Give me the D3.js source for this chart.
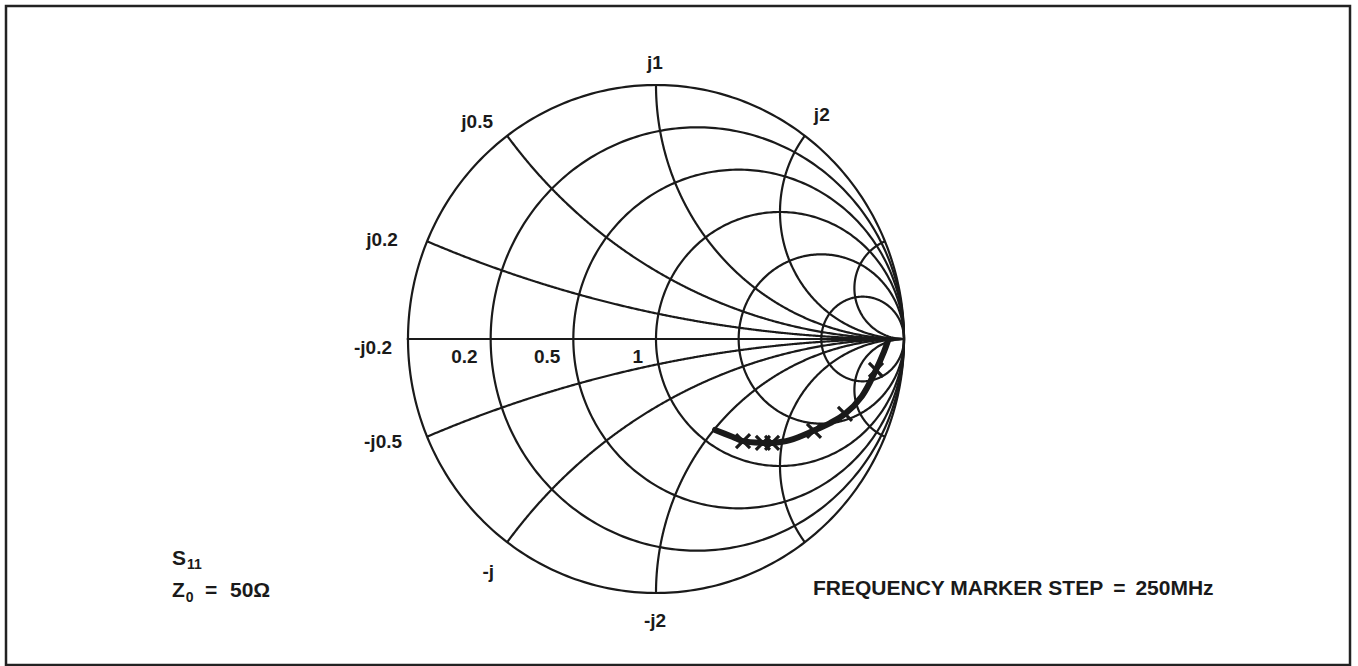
<!DOCTYPE html>
<html><head><meta charset="utf-8">
<script src="https://cdn.jsdelivr.net/npm/d3@7"></script>
<style>
body{margin:0;background:#fff;}
text{font-family:"Liberation Sans",Arial,Helvetica,sans-serif;font-weight:bold;fill:#1a1a1a;}
</style>
</head><body>
<svg id="chart" width="1358" height="666"></svg>
<script>
// ---------------- data ----------------
const resistanceValues = [0.2, 0.5, 1, 2, 5];
const reactanceValues  = [0.2, 0.5, 1, 2, 5, -0.2, -0.5, -1, -2, -5];
const resistanceLabelText   = ["0.2", "0.5", "1"];
const resistanceLabelValues = [0.2, 0.5, 1];
const reactanceLabelText    = ["j0.2", "j0.5", "j1", "j2", "-j0.2", "-j0.5", "-j", "-j2"];
const reactanceLabelAnchor  = [0.2, 0.5, 1, 2, 0, -0.2, -0.5, -1];
// measured S11 trace (reflection coefficient, real / imaginary)
const traceRe = [0.238, 0.310, 0.351, 0.431, 0.468, 0.540, 0.633, 0.702, 0.762, 0.831, 0.883, 0.919, 0.935];
const traceIm = [-0.358, -0.386, -0.402, -0.409, -0.409, -0.398, -0.362, -0.331, -0.295, -0.224, -0.130, -0.051, -0.008];
// frequency markers (250 MHz steps)
const markerRe = [0.351, 0.431, 0.468, 0.637, 0.762, 0.887];
const markerIm = [-0.402, -0.409, -0.409, -0.362, -0.295, -0.122];

// ---------------- layout ----------------
const svg = d3.select("#chart");
const x = d3.scaleLinear().domain([-1, 1]).range([408, 904]);
const y = d3.scaleLinear().domain([-1, 1]).range([593, 85]);
const ink = "#1a1a1a";

// frame
svg.append("rect").attr("x", 6).attr("y", 6).attr("width", 1344).attr("height", 659)
  .attr("fill", "none").attr("stroke", "#222").attr("stroke-width", 2.5);

function gamma(r, xx) {
  const d = (r + 1) * (r + 1) + xx * xx;
  return [(r * r - 1 + xx * xx) / d, (2 * xx) / d];
}

const grid = svg.append("g").attr("fill", "none").attr("stroke", ink).attr("stroke-width", 2.2);
const closed = d3.line().x(d => x(d[0])).y(d => y(d[1])).curve(d3.curveLinearClosed);
const open = d3.line().x(d => x(d[0])).y(d => y(d[1]));

// outer circle
grid.append("path").attr("d", closed(d3.range(0, 360, 1).map(a => [Math.cos(a * Math.PI / 180), Math.sin(a * Math.PI / 180)])));

// horizontal axis
grid.append("path").attr("d", open([[-1.005, 0], [1, 0]]));

// resistance circles
resistanceValues.forEach(r => {
  const c = r / (r + 1), rho = 1 / (r + 1);
  const pts = d3.range(0, 360, 1).map(a => [c + rho * Math.cos(a * Math.PI / 180), rho * Math.sin(a * Math.PI / 180)]);
  grid.append("path").attr("d", closed(pts));
});

// reactance arcs
reactanceValues.forEach(xx => {
  const pts = d3.range(0, 1, 0.0025).map(t => gamma(Math.tan(t * Math.PI / 2), xx));
  pts.push([1, 0]);
  grid.append("path").attr("d", open(pts));
});

// resistance labels
svg.append("g").selectAll("text").data(resistanceLabelValues).join("text")
  .attr("x", r => x((r - 1) / (r + 1)) - 13)
  .attr("y", y(0) + 24)
  .attr("text-anchor", "end")
  .attr("font-size", 19)
  .text((r, i) => resistanceLabelText[i]);

// reactance labels (nudges from the rim end of each arc, pixels)
const labelNudge = [[-45, -2], [-30, -14], [-1, -23], [17, -21], [-35, 8], [-44, 5], [-19, 29], [-1, 27]];
svg.append("g").selectAll("text").data(reactanceLabelAnchor).join("text")
  .attr("x", (v, i) => x(gamma(0, v)[0]) + labelNudge[i][0])
  .attr("y", (v, i) => y(gamma(0, v)[1]) + labelNudge[i][1] + 6.5)
  .attr("text-anchor", "middle")
  .attr("font-size", 19)
  .text((v, i) => reactanceLabelText[i]);

// trace
const trace = traceRe.map((v, i) => [v, traceIm[i]]);
svg.append("path")
  .attr("d", d3.line().x(d => x(d[0])).y(d => y(d[1])).curve(d3.curveCatmullRom)(trace))
  .attr("fill", "none").attr("stroke", ink).attr("stroke-width", 6).attr("stroke-linecap", "round");

// markers
const sym = d3.symbol().type(d3.symbolTimes).size(130);
svg.append("g").selectAll("path").data(markerRe).join("path")
  .attr("transform", (v, i) => `translate(${x(v)},${y(markerIm[i])})`)
  .attr("d", sym)
  .attr("fill", "none").attr("stroke", ink).attr("stroke-width", 3.2);

// annotations
const s11 = svg.append("text").attr("x", 172).attr("y", 565).attr("font-size", 21);
s11.append("tspan").text("S");
s11.append("tspan").attr("font-size", 14).attr("dy", 4).attr("dx", 1).text("11");

const z0 = svg.append("text").attr("x", 172).attr("y", 597).attr("font-size", 21);
z0.append("tspan").text("Z");
z0.append("tspan").attr("font-size", 14).attr("dy", 5).attr("dx", 1).text("0");
z0.append("tspan").attr("x", 205).attr("dy", -5).text("=");
z0.append("tspan").attr("x", 230).text("50Ω");

const fr = svg.append("text").attr("x", 813).attr("y", 595).attr("font-size", 21);
fr.append("tspan").text("FREQUENCY MARKER STEP");
fr.append("tspan").attr("dx", 10).text("=");
fr.append("tspan").attr("dx", 10).text("250MHz");
</script>
</body></html>
